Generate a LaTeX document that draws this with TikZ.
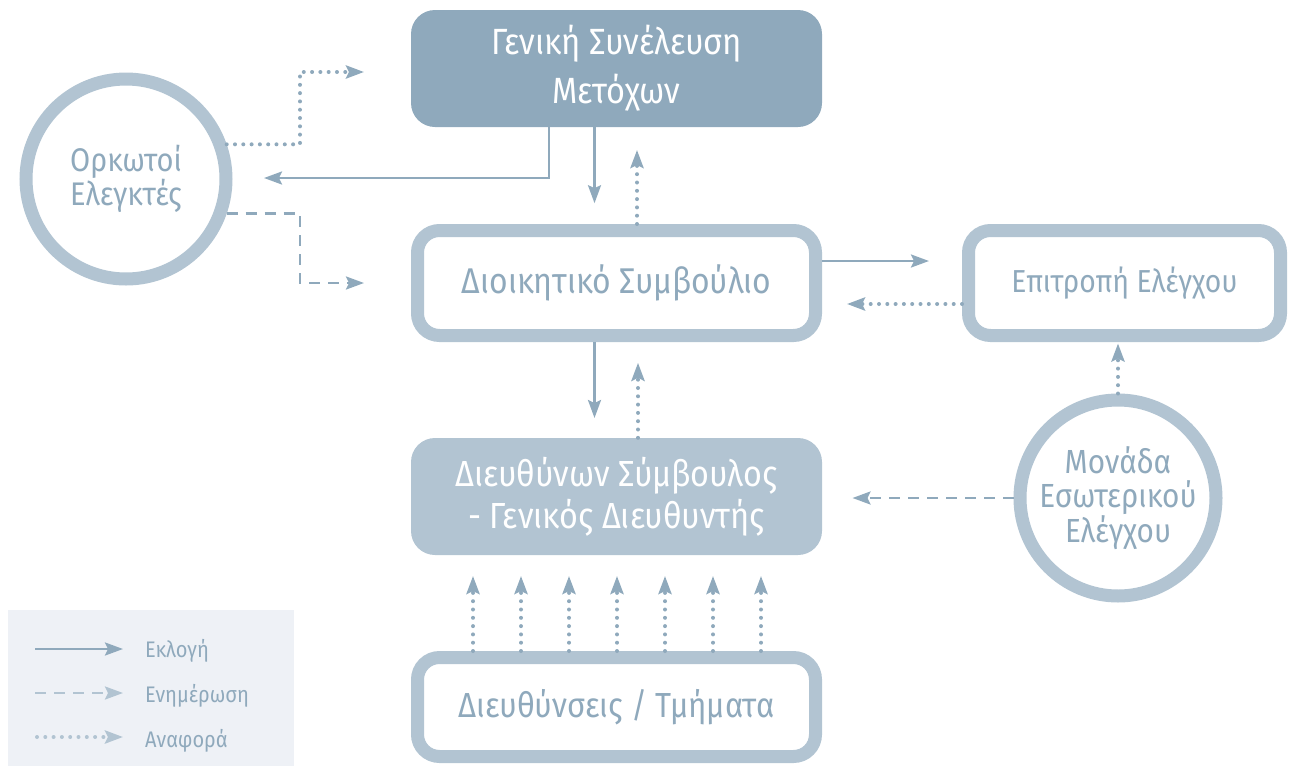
\documentclass[tikz,border=0pt]{standalone}
\usepackage{fontspec}
\setmainfont{Fira Sans}[FakeStretch=0.89]
\usetikzlibrary{arrows.meta}
\definecolor{dk}{HTML}{8FA9BC}
\definecolor{lt}{HTML}{B2C4D2}
\definecolor{lg}{HTML}{EEF1F6}
\tikzset{
 filledbox/.style={rounded corners=24pt, inner sep=0pt, minimum width=411pt, minimum height=117pt, text=white, align=center},
 ringbox/.style={draw=lt, line width=13pt, fill=white, rounded corners=22pt, inner sep=0pt, text=dk, align=center},
 ring/.style={circle, draw=lt, line width=13pt, fill=white, inner sep=0pt, text=dk, align=center},
 tipped/.style={-{Stealth[length=18pt,width=13pt,inset=3pt]}},
 elect/.style={tipped, draw=dk, line width=2.5pt},
 inform/.style={tipped, draw=dk, line width=2.5pt, dash pattern=on 11pt off 8pt},
 report/.style={tipped, draw=dk, line width=4pt, line cap=round, dash pattern=on 0pt off 8.3pt},
 legtext/.style={anchor=base west, text=dk, font=\fontsize{22.5}{24}\selectfont, inner sep=0pt},
}
\begin{document}
\begin{tikzpicture}[x=1pt,y=-1pt]
\useasboundingbox (0,0) rectangle (1291,766);
% legend background
\node[fill=lg, minimum width=286pt, minimum height=156pt, anchor=north west, inner sep=0pt] (legend) at (8,610) {};
% nodes
\node[filledbox, fill=dk, font=\fontsize{36.5}{49}\selectfont] (gsm) at (616.5,68.5) {Γενική Συνέλευση\\Μετόχων};
\node[ringbox, minimum width=398pt, minimum height=105pt, font=\fontsize{35.8}{40}\selectfont] (ds) at (616.5,283) {Διοικητικό Συμβούλιο};
\node[filledbox, fill=lt, font=\fontsize{36.3}{42}\selectfont] (ceo) at (616.5,496.5) {Διευθύνων Σύμβουλος\\- Γενικός Διευθυντής};
\node[ringbox, minimum width=398pt, minimum height=99pt, font=\fontsize{34.8}{40}\selectfont] (dt) at (616.5,707) {Διευθύνσεις / Τμήματα};
\node[ringbox, minimum width=312pt, minimum height=105pt, font=\fontsize{31.8}{34}\selectfont] (ee) at (1124.5,283) {Επιτροπή Ελέγχου};
\node[ring, minimum size=200pt, font=\fontsize{32.7}{33}\selectfont] (oe) at (126,179) {Ορκωτοί\\Ελεγκτές};
\node[ring, minimum size=196pt, font=\fontsize{33.4}{34}\selectfont] (mie) at (1118,498) {Μονάδα\\Εσωτερικού\\Ελέγχου};
% connectors
\coordinate (k1) at (300,72); \coordinate (t2) at (364,72);
\draw[report] (oe.19) -| (k1) -- (t2);
\coordinate (t1) at (264,178);
\draw[elect] ([xshift=-67.5pt]gsm.south) |- (t1);
\draw[elect] ([xshift=-22pt]gsm.south) -- ++(0,76);
\coordinate (k2) at (300,283); \coordinate (t3) at (364,283);
\draw[inform] (oe.-19) -| (k2) -- (t3);
\draw[report] ([xshift=20.5pt]ds.north) -- ++(0,-74);
\draw[elect] ([yshift=22pt]ds.east) -- ++(107,0);
\draw[report] ([yshift=-21pt]ee.west) -- ++(-115,0);
\draw[report] (mie.north) -- ++(0,-50);
\draw[inform] (mie.west) -- ++(-161,0);
\draw[elect] ([xshift=-22pt]ds.south) -- ++(0,76);
\draw[report] ([xshift=21.5pt]ceo.north) -- ++(0,-75);
\foreach \i in {0,...,6}{
  \pgfmathsetmacro\dx{-143.5+48*\i}
  \draw[report] ([xshift=\dx pt]dt.north) -- ++(0,-75);
}
% legend
\coordinate (l1a) at (35,649); \coordinate (l1b) at (123,649);
\coordinate (l2a) at (35,693); \coordinate (l2b) at (123,693);
\coordinate (l3a) at (37,737); \coordinate (l3b) at (123,737);
\draw[elect] (l1a) -- (l1b);
\draw[inform, draw=lt] (l2a) -- (l2b);
\draw[report, draw=lt] (l3a) -- (l3b);
\node[legtext] (lt1) at (145,657) {Εκλογή};
\node[legtext] (lt2) at (145,702) {Ενημέρωση};
\node[legtext] (lt3) at (145,747) {Αναφορά};
\end{tikzpicture}
\end{document}
